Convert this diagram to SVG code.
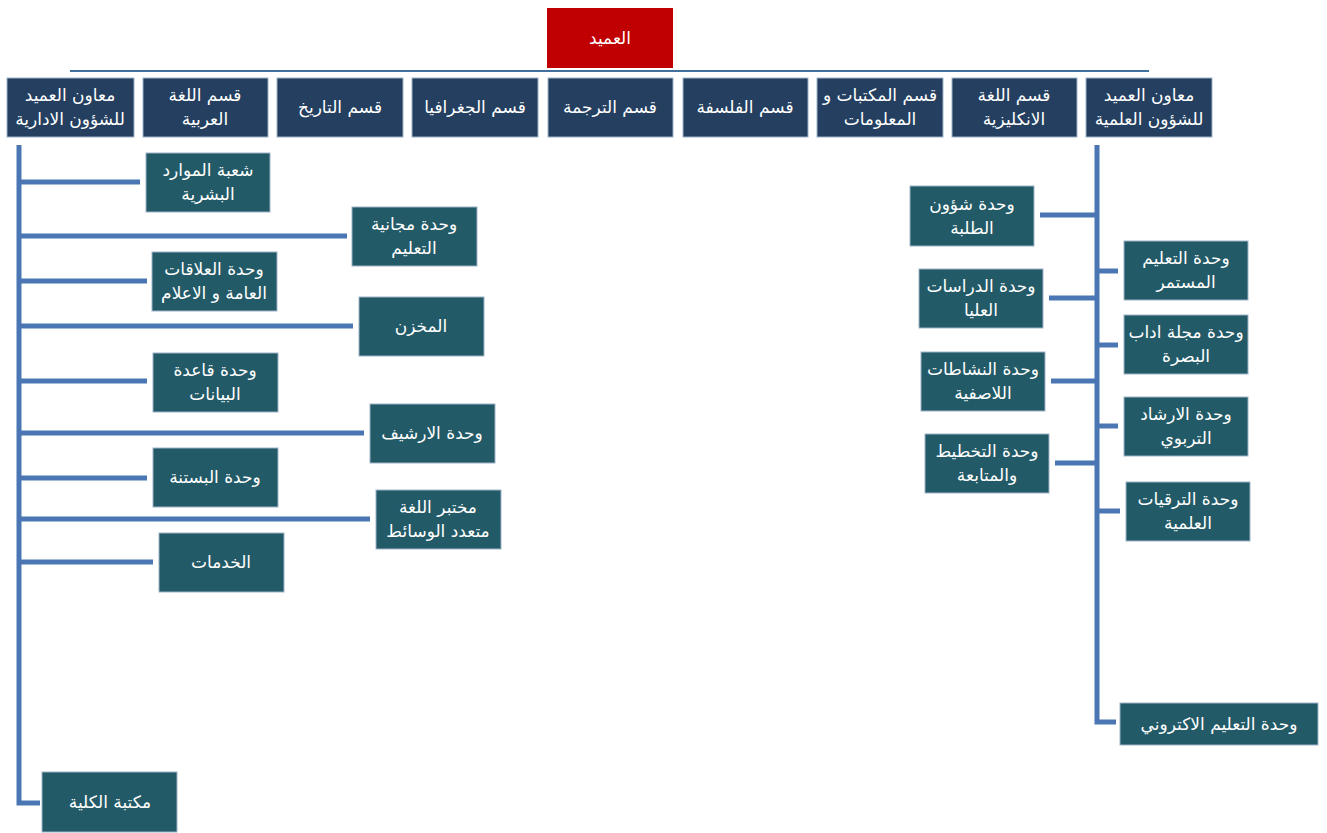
<svg xmlns="http://www.w3.org/2000/svg" width="1327" height="833" viewBox="0 0 1327 833">
<style>
.top{fill:#243F60;stroke:#9fb3c8;stroke-width:1}
.sub{fill:#225A67;stroke:#9fb3c8;stroke-width:1}
.dean{fill:#C00000}
text{font-family:"DejaVu Sans","Liberation Sans",sans-serif;font-size:17px;fill:#ffffff;text-anchor:middle;dominant-baseline:central;direction:rtl}
.c{fill:none;stroke:#4A76B3;stroke-width:5}
.thin{fill:none;stroke:#41719C;stroke-width:2}
</style>
<rect width="1327" height="833" fill="#ffffff"/>
<g id="connectors">
<line class="thin" x1="70" y1="71" x2="1149" y2="71"/>
<path class="c" d="M19,145 V803 H40"/>
<line class="c" x1="19" y1="182" x2="140" y2="182"/>
<line class="c" x1="19" y1="236" x2="347" y2="236"/>
<line class="c" x1="19" y1="281" x2="147" y2="281"/>
<line class="c" x1="19" y1="326" x2="353" y2="326"/>
<line class="c" x1="19" y1="381" x2="147" y2="381"/>
<line class="c" x1="19" y1="433" x2="364" y2="433"/>
<line class="c" x1="19" y1="478" x2="147" y2="478"/>
<line class="c" x1="19" y1="519" x2="370" y2="519"/>
<line class="c" x1="19" y1="562" x2="153" y2="562"/>
<path class="c" d="M1097,145 V722 H1116"/>
<line class="c" x1="1040" y1="215" x2="1097" y2="215"/>
<line class="c" x1="1049" y1="298" x2="1097" y2="298"/>
<line class="c" x1="1051" y1="381" x2="1097" y2="381"/>
<line class="c" x1="1055" y1="463" x2="1097" y2="463"/>
<line class="c" x1="1097" y1="271" x2="1118" y2="271"/>
<line class="c" x1="1097" y1="345" x2="1118" y2="345"/>
<line class="c" x1="1097" y1="426" x2="1118" y2="426"/>
<line class="c" x1="1097" y1="511" x2="1120" y2="511"/>
</g>
<g id="dean"><rect class="dean" x="547" y="8" width="126" height="60"/><text x="610" y="38">العميد</text></g>
<g id="admin-deputy"><rect class="top" x="7" y="78" width="127" height="59"/><text x="70" y="95">معاون العميد</text><text x="70" y="119">للشؤون الادارية</text></g>
<g id="arabic"><rect class="top" x="143" y="78" width="125" height="59"/><text x="205" y="95">قسم اللغة</text><text x="205" y="119">العربية</text></g>
<g id="history"><rect class="top" x="277" y="78" width="126" height="59"/><text x="340" y="107">قسم التاريخ</text></g>
<g id="geography"><rect class="top" x="412" y="78" width="126" height="59"/><text x="475" y="107">قسم الجغرافيا</text></g>
<g id="translation"><rect class="top" x="548" y="78" width="125" height="59"/><text x="610" y="107">قسم الترجمة</text></g>
<g id="philosophy"><rect class="top" x="683" y="78" width="125" height="59"/><text x="745" y="107">قسم الفلسفة</text></g>
<g id="libraries"><rect class="top" x="817" y="78" width="126" height="59"/><text x="880" y="95">قسم المكتبات و</text><text x="880" y="119">المعلومات</text></g>
<g id="english"><rect class="top" x="952" y="78" width="125" height="59"/><text x="1014" y="95">قسم اللغة</text><text x="1014" y="119">الانكليزية</text></g>
<g id="sci-deputy"><rect class="top" x="1086" y="78" width="126" height="59"/><text x="1149" y="95">معاون العميد</text><text x="1149" y="119">للشؤون العلمية</text></g>

<g id="hr"><rect class="sub" x="146" y="153" width="124" height="59"/><text x="208" y="170">شعبة الموارد</text><text x="208" y="194">البشرية</text></g>
<g id="free-edu"><rect class="sub" x="352" y="207" width="125" height="59"/><text x="414" y="224">وحدة مجانية</text><text x="414" y="248">التعليم</text></g>
<g id="pr"><rect class="sub" x="152" y="252" width="125" height="59"/><text x="214" y="269">وحدة العلاقات</text><text x="214" y="293">العامة و الاعلام</text></g>
<g id="store"><rect class="sub" x="359" y="297" width="125" height="59"/><text x="421" y="326">المخزن</text></g>
<g id="database"><rect class="sub" x="153" y="353" width="125" height="59"/><text x="215" y="370">وحدة قاعدة</text><text x="215" y="394">البيانات</text></g>
<g id="archive"><rect class="sub" x="370" y="404" width="125" height="59"/><text x="432" y="433">وحدة الارشيف</text></g>
<g id="garden"><rect class="sub" x="153" y="448" width="125" height="59"/><text x="215" y="477">وحدة البستنة</text></g>
<g id="lang-lab"><rect class="sub" x="376" y="490" width="125" height="59"/><text x="438" y="507">مختبر اللغة</text><text x="438" y="531">متعدد الوسائط</text></g>
<g id="services"><rect class="sub" x="159" y="533" width="125" height="59"/><text x="221" y="562">الخدمات</text></g>
<g id="college-library"><rect class="sub" x="42" y="772" width="135" height="60"/><text x="110" y="802">مكتبة الكلية</text></g>

<g id="students"><rect class="sub" x="910" y="186" width="124" height="60"/><text x="972" y="204">وحدة شؤون</text><text x="972" y="228">الطلبة</text></g>
<g id="postgrad"><rect class="sub" x="919" y="269" width="124" height="59"/><text x="981" y="286">وحدة الدراسات</text><text x="981" y="310">العليا</text></g>
<g id="activities"><rect class="sub" x="921" y="352" width="124" height="59"/><text x="983" y="369">وحدة النشاطات</text><text x="983" y="393">اللاصفية</text></g>
<g id="planning"><rect class="sub" x="925" y="434" width="124" height="59"/><text x="987" y="451">وحدة التخطيط</text><text x="987" y="475">والمتابعة</text></g>
<g id="continuing"><rect class="sub" x="1124" y="241" width="124" height="59"/><text x="1186" y="258">وحدة التعليم</text><text x="1186" y="282">المستمر</text></g>
<g id="journal"><rect class="sub" x="1124" y="315" width="124" height="59"/><text x="1186" y="332">وحدة مجلة اداب</text><text x="1186" y="356">البصرة</text></g>
<g id="guidance"><rect class="sub" x="1124" y="397" width="124" height="59"/><text x="1186" y="414">وحدة الارشاد</text><text x="1186" y="438">التربوي</text></g>
<g id="promotions"><rect class="sub" x="1126" y="482" width="124" height="59"/><text x="1188" y="499">وحدة الترقيات</text><text x="1188" y="523">العلمية</text></g>
<g id="elearning"><rect class="sub" x="1120" y="703" width="198" height="42"/><text x="1219" y="724">وحدة التعليم الاكتروني</text></g>
</svg>
